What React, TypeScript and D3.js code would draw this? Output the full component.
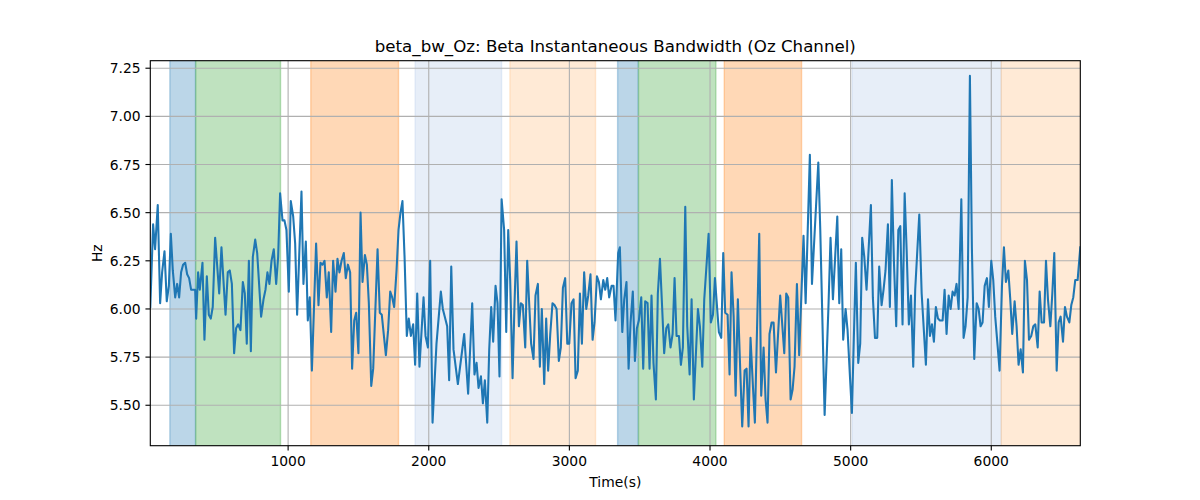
import React from 'react';
import * as d3 from 'd3';

const times = [
  20, 40, 54, 73, 90, 104, 121, 137, 152, 166, 180, 197, 211, 225, 239, 253, 268, 282, 296, 310, 325, 339, 346, 360, 372, 391, 405, 422, 436, 450, 464, 481, 510, 526, 555, 571, 585, 600, 616, 630, 645, 661, 678, 692, 706, 721, 735, 749, 766, 780, 808, 825, 839,
  853, 867, 882, 898, 915, 929, 943, 960, 974, 988, 1005, 1019, 1036, 1050, 1064, 1095, 1109, 1126, 1140, 1154, 1169, 1185, 1199, 1216, 1230, 1244, 1259, 1275, 1289, 1306, 1320, 1337, 1351, 1365, 1380, 1396, 1410, 1425, 1441, 1455, 1470, 1484, 1500, 1515, 1529, 1546, 1560, 1574, 1591, 1605, 1636, 1652, 1666,
  1695, 1711, 1726, 1740, 1754, 1771, 1785, 1799, 1813, 1828, 1844, 1858, 1873, 1889, 1903, 1918, 1934, 1963, 1977, 1994, 2010, 2027, 2055, 2086, 2100, 2114, 2131, 2145, 2160, 2176, 2207, 2235, 2252, 2280, 2309, 2325, 2340, 2354, 2371, 2385, 2399, 2416, 2430, 2444, 2458, 2475, 2489, 2503, 2518,
  2536, 2551, 2565, 2579, 2596, 2610, 2624, 2641, 2655, 2669, 2686, 2700, 2714, 2728, 2745, 2759, 2776, 2790, 2804, 2821, 2835, 2849, 2864, 2880, 2894, 2909, 2925, 2939, 2954, 2970, 2985, 2999, 3015, 3030, 3044, 3060, 3075, 3089, 3105, 3120, 3134, 3150, 3165, 3179, 3196, 3210, 3224, 3241, 3255, 3269, 3283, 3300, 3314, 3328, 3347,
  3359, 3376, 3390, 3406, 3421, 3435, 3451, 3466, 3480, 3494, 3511, 3525, 3539, 3556, 3570, 3584, 3598, 3615, 3629, 3644, 3660, 3674, 3689, 3703, 3719, 3734, 3748, 3762, 3779, 3793, 3807, 3824, 3838, 3855, 3869, 3885, 3914, 3928, 3945, 3959, 3990, 4006, 4021, 4035, 4049, 4063, 4080, 4094, 4108, 4125, 4139, 4153, 4168,
  4182, 4198, 4215, 4229, 4246, 4260, 4274, 4288, 4305, 4319, 4350, 4364, 4381, 4395, 4409, 4423, 4438, 4452, 4469, 4499, 4528, 4542, 4556, 4573, 4587, 4601, 4618, 4634, 4665, 4680, 4710, 4725, 4770, 4784, 4815, 4843, 4857, 4874, 4905, 4919, 4933, 4947, 4964, 4978, 4995,
  5009, 5023, 5037, 5054, 5068, 5082, 5097, 5113, 5144, 5158, 5173, 5189, 5203, 5220, 5234, 5248, 5265, 5279, 5293, 5308, 5324, 5339, 5353, 5369, 5384, 5398, 5414, 5429, 5445, 5459, 5488, 5505, 5535, 5550, 5564, 5578, 5592, 5606, 5621, 5635, 5654, 5668, 5682, 5697, 5711, 5725, 5739, 5753, 5768, 5787, 5803, 5817, 5832,
  5848, 5862, 5879, 5896, 5910, 5924, 5938, 5953, 5969, 5983, 6000, 6014, 6028, 6045, 6059, 6076, 6090, 6104, 6121, 6135, 6149, 6166, 6180, 6194, 6209, 6225, 6239, 6254, 6268, 6284, 6299, 6313, 6330, 6344, 6358, 6375, 6389, 6403, 6420, 6434, 6448, 6465, 6479, 6493, 6510, 6524, 6538, 6555, 6569, 6583, 6597, 6614, 6633,
];

const values = [
  6.01, 6.44, 6.31, 6.54, 6.03, 6.19, 6.30, 6.04, 6.12, 6.39, 6.20, 6.06, 6.13, 6.06, 6.19, 6.23, 6.24, 6.18, 6.16, 6.10, 6.10, 6.10, 5.95, 6.19, 6.10, 6.24, 5.84, 6.17, 5.97, 5.95, 6.01, 6.37, 6.08, 6.32, 5.97, 6.19, 6.20, 6.13, 5.77, 5.90, 5.92, 5.89, 6.14, 6.08, 5.82, 6.25, 5.78, 6.27, 6.36, 6.29, 5.96, 6.05, 6.10,
  6.19, 6.13, 6.25, 6.31, 6.13, 6.27, 6.60, 6.46, 6.46, 6.41, 6.09, 6.56, 6.48, 6.34, 5.97, 6.61, 6.13, 6.35, 5.94, 6.06, 5.68, 6.03, 6.34, 6.02, 6.24, 6.23, 6.25, 6.06, 6.19, 5.88, 6.25, 6.09, 6.26, 6.19, 6.25, 6.29, 6.16, 6.23, 6.19, 5.69, 5.94, 5.98, 5.77, 6.50, 6.14, 6.28, 6.23, 6.03, 5.60, 5.69, 6.31, 5.98, 5.97,
  5.76, 5.89, 6.09, 6.06, 6.01, 6.20, 6.41, 6.50, 6.56, 6.27, 5.86, 5.95, 5.86, 5.92, 5.71, 6.08, 5.70, 6.06, 5.86, 5.80, 6.25, 5.41, 5.82, 6.09, 6.00, 5.96, 5.91, 5.63, 6.22, 5.79, 5.61, 5.77, 5.87, 5.56, 6.03, 5.66, 5.72, 5.59, 5.65, 5.51, 5.63, 5.41, 5.79, 6.01, 5.83, 6.12, 6.03, 5.65, 6.57,
  6.41, 5.88, 6.41, 6.15, 5.64, 6.03, 6.35, 5.91, 6.03, 6.02, 5.80, 6.25, 6.03, 5.82, 5.74, 6.07, 6.13, 5.70, 6.00, 5.61, 5.95, 5.68, 5.87, 6.03, 6.02, 6.00, 5.73, 5.80, 6.11, 6.16, 5.82, 5.82, 6.03, 6.05, 5.64, 5.68, 6.08, 5.82, 6.19, 6.00, 6.07, 6.18, 5.84, 5.93, 6.17, 6.14, 6.05, 6.15, 6.10, 6.16, 6.06, 6.12, 6.12, 5.94, 6.29,
  6.32, 5.88, 6.05, 6.14, 5.69, 5.93, 6.09, 5.73, 5.90, 5.94, 6.06, 5.69, 6.04, 6.03, 5.69, 6.07, 5.72, 5.53, 6.08, 6.26, 6.00, 5.77, 5.90, 5.92, 5.80, 5.87, 6.16, 5.86, 5.86, 5.71, 5.80, 6.53, 5.91, 5.66, 6.05, 5.53, 6.00, 5.91, 5.70, 6.05, 6.39, 5.93, 5.97, 6.16, 6.02, 5.88, 5.85, 6.29, 5.98, 5.97, 5.66, 6.19, 5.96,
  5.55, 6.05, 5.68, 5.39, 5.68, 5.69, 5.39, 5.85, 5.60, 5.41, 6.39, 5.55, 5.80, 5.53, 5.41, 5.87, 5.93, 5.93, 5.67, 6.07, 5.77, 6.08, 6.06, 5.53, 5.58, 5.70, 6.13, 5.76, 6.38, 6.03, 6.80, 6.13, 6.76, 6.41, 5.45, 6.03, 6.37, 6.05, 6.48, 6.03, 6.31, 5.84, 6.00, 5.89, 5.65,
  5.46, 5.86, 6.24, 5.72, 5.82, 6.37, 6.27, 6.10, 6.54, 6.06, 5.85, 5.85, 6.22, 6.02, 6.10, 6.20, 6.44, 6.01, 6.67, 6.24, 5.91, 6.41, 6.43, 5.92, 6.60, 6.31, 5.92, 6.07, 5.70, 6.10, 6.49, 6.08, 5.71, 6.05, 5.86, 5.92, 5.83, 6.01, 5.95, 5.94, 5.94, 6.10, 5.87, 6.07, 6.00, 6.09, 6.07, 6.13, 6.00, 6.57, 5.85, 5.91, 6.06,
  7.21, 6.32, 5.74, 6.03, 6.00, 5.91, 5.93, 6.12, 6.16, 6.01, 6.25, 6.15, 5.96, 5.81, 5.68, 6.12, 6.32, 6.14, 6.20, 6.05, 5.87, 6.04, 5.91, 5.71, 5.79, 5.67, 6.25, 6.15, 5.84, 5.86, 5.91, 5.92, 5.80, 6.09, 5.93, 5.93, 6.25, 6.05, 5.91, 6.08, 6.29, 5.68, 5.93, 5.96, 5.83, 6.01, 5.96, 5.93, 6.02, 6.06, 6.15, 6.15, 6.32,
];

const bandStarts = [159, 343, 1161, 1903, 2577, 3343, 3492, 4101, 5011, 6071];
const bandEnds = [341, 946, 1785, 2518, 3186, 3489, 4042, 4651, 6071, 6700];
const bandColors = ['#1f77b4', '#2ca02c', '#ff7f0e', '#aec7e8', '#ffbb78', '#1f77b4', '#2ca02c', '#ff7f0e', '#aec7e8', '#ffbb78'];

const xTicks = [1000, 2000, 3000, 4000, 5000, 6000];
const yTicks = [5.5, 5.75, 6.0, 6.25, 6.5, 6.75, 7.0, 7.25];
const yLimits = [5.29, 7.289];

const titleText = 'beta_bw_Oz: Beta Instantaneous Bandwidth (Oz Channel)';
const xLabelText = 'Time(s)';
const yLabelText = 'Hz';

const W = 1200;
const H = 500;
const L = 150.3;
const R = 1080.3;
const T = 60.7;
const B = 445.7;
const FONT = 'DejaVu Sans, sans-serif';
const PT = 100 / 72;

export default function App() {
  const x = d3.scaleLinear().domain(d3.extent(times) as [number, number]).range([L, R]);
  const y = d3.scaleLinear().domain(yLimits).range([B, T]);
  const pts: [number, number][] = times.map((t, i) => [t, values[i]]);
  const line = d3.line<[number, number]>().x((d) => x(d[0])).y((d) => y(d[1]));
  const tickLen = 3.5 * PT;
  const tickFs = 10 * PT;

  return (
    <div>
      <style>{`body{margin:0}`}</style>
      <svg width={W} height={H} style={{ display: 'block', background: '#fff' }} fontFamily={FONT}>
        <defs>
          <clipPath id="plotclip">
            <rect x={L} y={T} width={R - L} height={B - T} />
          </clipPath>
        </defs>
        <g clipPath="url(#plotclip)">
          {bandStarts.map((s, i) => (
            <rect
              key={'b' + i}
              x={x(s)}
              y={T - 2}
              width={x(bandEnds[i]) - x(s)}
              height={B - T + 4}
              fill={bandColors[i]}
              fillOpacity={0.3}
              stroke={bandColors[i]}
              strokeOpacity={0.3}
              strokeWidth={PT}
            />
          ))}
          {xTicks.map((t) => (
            <line key={'gx' + t} x1={x(t)} x2={x(t)} y1={T} y2={B} stroke="#b0b0b0" strokeWidth={0.8 * PT} />
          ))}
          {yTicks.map((t) => (
            <line key={'gy' + t} x1={L} x2={R} y1={y(t)} y2={y(t)} stroke="#b0b0b0" strokeWidth={0.8 * PT} />
          ))}
          <path d={line(pts) || ''} fill="none" stroke="#1f77b4" strokeWidth={1.5 * PT} strokeLinejoin="round" strokeLinecap="square" />
        </g>
        <rect x={L} y={T} width={R - L} height={B - T} fill="none" stroke="#000" strokeWidth={0.8 * PT} />
        {xTicks.map((t) => (
          <g key={'tx' + t}>
            <line x1={x(t)} x2={x(t)} y1={B} y2={B + tickLen} stroke="#000" strokeWidth={0.8 * PT} />
            <text x={x(t)} y={B + 2 * tickLen + 10.6} textAnchor="middle" fontSize={tickFs} fill="#000">
              {t}
            </text>
          </g>
        ))}
        {yTicks.map((t) => (
          <g key={'ty' + t}>
            <line x1={L - tickLen} x2={L} y1={y(t)} y2={y(t)} stroke="#000" strokeWidth={0.8 * PT} />
            <text x={L - 2 * tickLen} y={y(t)} dy="0.36em" textAnchor="end" fontSize={tickFs} fill="#000">
              {t.toFixed(2)}
            </text>
          </g>
        ))}
        <text x={(L + R) / 2} y={T - 6 * PT} textAnchor="middle" fontSize={12 * PT} fill="#000">
          {titleText}
        </text>
        <text x={(L + R) / 2} y={486.5} textAnchor="middle" fontSize={tickFs} fill="#000">
          {xLabelText}
        </text>
        <text transform={`translate(101.5, ${(T + B) / 2}) rotate(-90)`} textAnchor="middle" fontSize={tickFs} fill="#000">
          {yLabelText}
        </text>
      </svg>
    </div>
  );
}
